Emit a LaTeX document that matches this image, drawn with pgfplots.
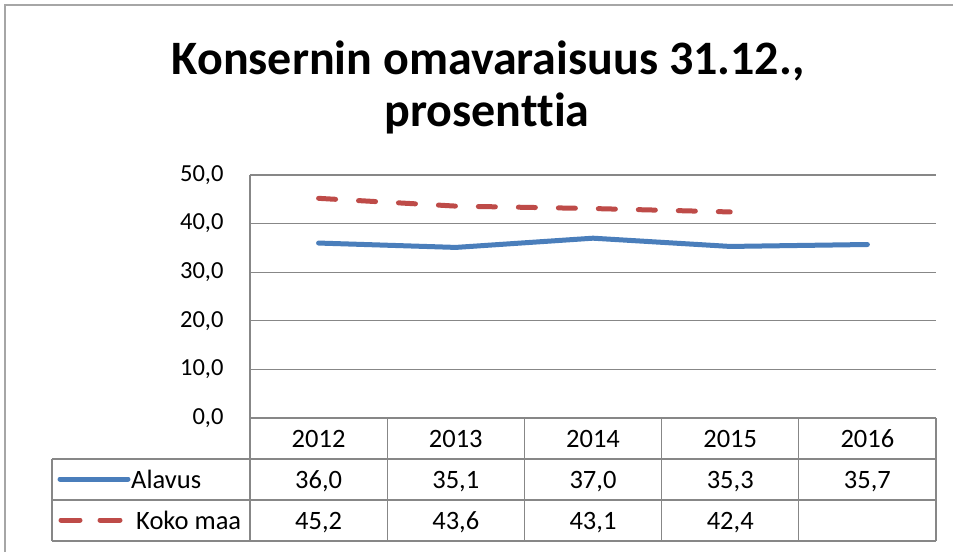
\documentclass[border=0pt]{standalone}
\usepackage{fontspec}
\setmainfont{Carlito}[Ligatures=NoCommon]
\usepackage{pgfplots}
\pgfplotsset{compat=1.18}
\definecolor{lblue}{HTML}{4A7EBB}
\definecolor{lred}{HTML}{BE4B48}
\definecolor{gridc}{HTML}{878787}
\definecolor{framec}{HTML}{A6A6A6}
\newcommand{\tf}{\fontsize{26.5}{31}\selectfont}
\newcommand{\yf}{\fontsize{24.5}{29}\selectfont}
\begin{document}
\begin{tikzpicture}
\useasboundingbox (0,0) rectangle (953pt,-552pt);
\fill[white] (0,0) rectangle (953pt,-552pt);
\draw[framec, line width=2pt] (4.5pt,-552pt) -- (4.5pt,-4.5pt) -- (953pt,-4.5pt);
\node[font=\fontsize{48}{57}\selectfont\bfseries, anchor=base, inner sep=0pt] at (488pt,-74pt) {Konsernin omavaraisuus 31.12.,};
\node[font=\fontsize{48}{57}\selectfont\bfseries, anchor=base, inner sep=0pt] at (487pt,-126pt) {prosenttia};
\begin{axis}[
  at={(250pt,-418pt)}, anchor=south west,
  scale only axis, width=686pt, height=243pt,
  xmin=-0.5, xmax=4.5, ymin=0, ymax=50,
  ytick={0,10,...,50},
  xtick={0,...,4},
  xticklabels={2012,2013,2014,2015,2016},
  major tick length=0pt,
  ymajorgrids,
  grid style={gridc, line width=1.2pt},
  axis x line*=bottom, axis y line*=left,
  axis line style={gridc, line width=1.2pt},
  clip=false,
  xticklabel style={font=\tf, anchor=base, yshift=-29.5pt},
  yticklabel style={font=\yf, xshift=-23pt},
  /pgf/number format/.cd, fixed, fixed zerofill, precision=1, use comma, assume math mode=true,
]
\addplot[lblue, line width=5pt, line join=round, line cap=round] coordinates {(0,36.0) (1,35.1) (2,37.0) (3,35.3) (4,35.7)};
\addplot[lred, line width=5pt, line cap=round, dash pattern=on 17pt off 23pt] coordinates {(0,45.2) (1,43.6) (2,43.1) (3,42.4)};
\end{axis}
% data table grid
\draw[gridc, line width=1.2pt] (52pt,-459pt) -- (936pt,-459pt) (52pt,-500pt) -- (936pt,-500pt) (52pt,-541pt) -- (936pt,-541pt) (52pt,-459pt) -- (52pt,-541pt);
\foreach \x in {250,387.2,524.4,661.6,798.8,936} \draw[gridc, line width=1.2pt] (\x pt,-418pt) -- (\x pt,-541pt);
% legend keys
\draw[lblue, line width=5pt, line cap=round] (60pt,-479pt) -- (128pt,-479pt);
\node[font=\tf, anchor=base west, inner sep=0pt] at (131pt,-488pt) {Alavus};
\draw[lred, line width=5pt, line cap=round] (61pt,-520pt) -- (80pt,-520pt) (100pt,-520pt) -- (120pt,-520pt);
\node[font=\tf, anchor=base west, inner sep=0pt] at (136pt,-529pt) {Koko maa};
% table values
\foreach \v [count=\i from 0] in {36{,}0,35{,}1,37{,}0,35{,}3,35{,}7}
  \node[font=\tf, anchor=base, inner sep=0pt] at ({250pt+137.2pt*(\i+0.5)},-488pt) {\v};
\foreach \v [count=\i from 0] in {45{,}2,43{,}6,43{,}1,42{,}4}
  \node[font=\tf, anchor=base, inner sep=0pt] at ({250pt+137.2pt*(\i+0.5)},-529pt) {\v};
\end{tikzpicture}
\end{document}
